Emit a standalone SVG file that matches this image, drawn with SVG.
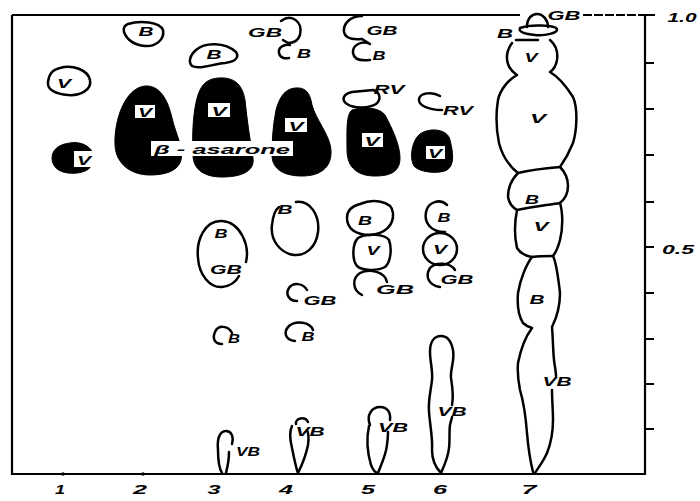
<svg xmlns="http://www.w3.org/2000/svg" width="700" height="501" viewBox="0 0 700 501">
<style>
.o{fill:none;stroke:#000;stroke-width:2.5;stroke-linecap:round;stroke-linejoin:round}
.f{fill:#000;stroke:#000;stroke-width:1}
.w{fill:#fff;stroke:none}
.l{font-family:"Liberation Sans",Arial,sans-serif;font-weight:bold;font-style:italic;font-size:12px;fill:#000;text-anchor:middle}
.n{font-family:"Liberation Sans",Arial,sans-serif;font-weight:bold;font-style:italic;font-size:13px;fill:#000;text-anchor:middle}
.ax{fill:none;stroke:#000;stroke-width:2.2}
</style>
<rect width="700" height="501" fill="#fff"/>
<g id="frame">
<path class="ax" d="M12,15 L12,474 L645,474 L645,15"/>
<path class="ax" d="M12,15 L520,15"/>
<path class="ax" d="M583,15 L645,15" stroke-dasharray="9,2"/>
<path class="ax" d="M645,15 H655 M645,63 H654 M645,109 H654 M645,155 H654 M645,202 H654 M645,247 H654 M645,293 H654 M645,339 H654 M645,384 H654 M645,429 H654"/>
<circle cx="63" cy="474" r="1.8"/><circle cx="143" cy="474" r="1.8"/>
<text class="n" x="682" y="22" textLength="29" lengthAdjust="spacingAndGlyphs">1.0</text>
<text class="n" x="678" y="254" textLength="32" lengthAdjust="spacingAndGlyphs">0.5</text>
<text class="n" x="60" y="494" textLength="10" lengthAdjust="spacingAndGlyphs">1</text>
<text class="n" x="140" y="494" textLength="14" lengthAdjust="spacingAndGlyphs">2</text>
<text class="n" x="214" y="494" textLength="13" lengthAdjust="spacingAndGlyphs">3</text>
<text class="n" x="286" y="494" textLength="14" lengthAdjust="spacingAndGlyphs">4</text>
<text class="n" x="368" y="494" textLength="14" lengthAdjust="spacingAndGlyphs">5</text>
<text class="n" x="440" y="494" textLength="14" lengthAdjust="spacingAndGlyphs">6</text>
<text class="n" x="529" y="494" textLength="15" lengthAdjust="spacingAndGlyphs">7</text>
</g>
<g id="lane1">
<path class="o" d="M60,68 C72,64 88,70 90,80 C92,90 80,96 68,95 C56,94 47,90 48,82 C49,74 52,70 60,68 Z"/>
<text class="l" x="64" y="88" textLength="14" lengthAdjust="spacingAndGlyphs">V</text>
<path class="f" d="M70,143 C80,141 90,146 92,152 L92,165 C88,172 78,174 68,173 C58,172 52,166 52,158 C52,149 60,144 70,143 Z"/>
<rect class="w" x="74" y="151" width="21" height="16"/>
<text class="l" x="84" y="165" textLength="14" lengthAdjust="spacingAndGlyphs">V</text>
</g>
<g id="lane2">
<path class="o" d="M128,24 C140,20 160,22 163,30 C165,40 155,47 145,46 C135,45 127,40 124,32 C123,27 125,25 128,24 Z"/>
<text class="l" x="146" y="36" textLength="15" lengthAdjust="spacingAndGlyphs">B</text>
<path class="f" d="M145,86 C160,85 168,100 172,118 C176,135 184,148 181,160 C178,172 163,175 150,175 C132,175 116,165 115,145 C114,120 125,88 145,86 Z"/>
<rect class="w" x="135" y="105" width="20" height="13"/>
<text class="l" x="145" y="117" textLength="14" lengthAdjust="spacingAndGlyphs">V</text>
</g>
<g id="lane3">
<path class="o" d="M196,50 C205,42 225,42 236,52 C240,58 234,62 225,63 C212,64 200,70 192,66 C188,62 190,55 196,50 Z"/>
<text class="l" x="214" y="59" textLength="15" lengthAdjust="spacingAndGlyphs">B</text>
<path class="f" d="M218,78 C232,77 242,82 245,100 C247,120 250,140 253,158 C255,172 240,177 222,177 C205,177 193,170 193,155 C192,135 193,110 198,95 C202,83 208,79 218,78 Z"/>
<rect class="w" x="208" y="103" width="22" height="14"/>
<text class="l" x="219" y="116" textLength="15" lengthAdjust="spacingAndGlyphs">V</text>
<path class="o" d="M246,262 C250,245 240,222 222,221 C205,220 196,240 198,258 C199,275 210,288 222,287 C230,286 236,282 239,276"/>
<text class="l" x="221" y="238" textLength="13" lengthAdjust="spacingAndGlyphs">B</text>
<text class="l" x="226" y="274" textLength="32" lengthAdjust="spacingAndGlyphs">GB</text>
<path class="o" d="M232,333 C228,325 218,325 215,332 C212,339 215,344 222,344"/>
<text class="l" x="234" y="343" textLength="12" lengthAdjust="spacingAndGlyphs">B</text>
<path class="o" d="M232,444 C234,436 231,431 226,431 C219,431 217,440 218,450 C218,460 219,468 222,473 M226,473 C228,465 229,458 229,452"/>
<text class="l" x="248" y="456" textLength="24" lengthAdjust="spacingAndGlyphs">VB</text>
</g>
<g id="lane4">
<path class="o" d="M281,21 C292,13 303,22 300,35 C298,41 293,43 288,43 M283,40 L288,43"/>
<path class="o" d="M290,45 C283,44 278,48 279,53 C280,58 285,59 289,58"/>
<text class="l" x="265" y="37" textLength="34" lengthAdjust="spacingAndGlyphs">GB</text>
<text class="l" x="304" y="58" textLength="14" lengthAdjust="spacingAndGlyphs">B</text>
<path class="f" d="M295,88 C305,87 310,92 312,105 C316,120 330,135 331,150 C332,168 320,176 302,176 C285,176 272,170 272,155 C272,140 273,125 276,110 C280,95 286,89 295,88 Z"/>
<rect class="w" x="285" y="118" width="22" height="14"/>
<text class="l" x="296" y="131" textLength="15" lengthAdjust="spacingAndGlyphs">V</text>
<path class="o" d="M296,202 C310,200 320,215 318,232 C316,248 305,256 294,255 C280,253 270,240 272,225 C273,215 275,210 279,207"/>
<text class="l" x="285" y="214" textLength="15" lengthAdjust="spacingAndGlyphs">B</text>
<path class="o" d="M307,290 C303,283 293,282 289,288 C285,294 289,301 297,301"/>
<text class="l" x="320" y="305" textLength="33" lengthAdjust="spacingAndGlyphs">GB</text>
<path class="o" d="M313,330 C310,322 296,320 289,326 C283,332 285,340 295,341"/>
<text class="l" x="308" y="341" textLength="13" lengthAdjust="spacingAndGlyphs">B</text>
<path class="o" d="M296,424 C295,418 305,416 308,422"/>
<path class="o" d="M292,426 C289,432 290,440 292,448 C294,458 296,468 298,473 C302,465 306,455 308,445 C309,438 308,432 307,430"/>
<text class="l" x="310" y="436" textLength="29" lengthAdjust="spacingAndGlyphs">VB</text>
</g>
<g id="lane5">
<path class="o" d="M362,16 C350,16 343,24 344,32 C345,38 352,40 362,39"/>
<path class="o" d="M370,44 C362,40 352,45 353,53 C354,60 362,61 370,60 M362,39 L370,44"/>
<text class="l" x="382" y="35" textLength="31" lengthAdjust="spacingAndGlyphs">GB</text>
<text class="l" x="379" y="60" textLength="13" lengthAdjust="spacingAndGlyphs">B</text>
<path class="o" d="M352,92 L373,90 C381,92 381,100 376,104 C370,108 354,109 347,104 C341,100 343,94 352,92 Z"/>
<text class="l" x="389" y="94" textLength="31" lengthAdjust="spacingAndGlyphs">RV</text>
<path class="f" d="M352,110 C365,106 380,108 385,115 C392,128 400,145 400,158 C400,172 390,176 375,176 C358,176 347,168 347,150 C347,130 346,115 352,110 Z"/>
<rect class="w" x="362" y="133" width="21" height="14"/>
<text class="l" x="372" y="146" textLength="15" lengthAdjust="spacingAndGlyphs">V</text>
<path class="o" d="M360,204 C372,199 392,200 393,213 C394,225 385,234 370,235 C355,235 347,228 347,218 C347,210 352,206 360,204 Z"/>
<text class="l" x="365" y="225" textLength="14" lengthAdjust="spacingAndGlyphs">B</text>
<path class="o" d="M358,238 C366,233 385,234 389,240 C392,248 391,262 385,267 C378,271 362,271 357,266 C352,260 352,244 358,238 Z"/>
<text class="l" x="373" y="255" textLength="13" lengthAdjust="spacingAndGlyphs">V</text>
<path class="o" d="M387,282 C385,272 370,268 360,273 C352,278 352,290 362,295"/>
<text class="l" x="395" y="294" textLength="38" lengthAdjust="spacingAndGlyphs">GB</text>
<path class="o" d="M370,425 C366,415 372,407 380,407 C387,407 391,412 390,420"/>
<path class="o" d="M369,426 C366,440 368,455 371,465 C373,470 376,473 378,473 C381,465 386,455 387,445 C388,438 388,434 388,432"/>
<text class="l" x="393" y="432" textLength="30" lengthAdjust="spacingAndGlyphs">VB</text>
</g>
<g id="lane6">
<path class="o" d="M440,96 C432,91 420,93 419,99 C418,105 428,110 442,110"/>
<text class="l" x="458" y="115" textLength="30" lengthAdjust="spacingAndGlyphs">RV</text>
<path class="f" d="M420,134 C430,127 448,129 450,140 C453,152 455,165 447,170 C440,174 420,173 414,166 C409,158 412,140 420,134 Z"/>
<rect class="w" x="426" y="146" width="19" height="13"/>
<text class="l" x="435" y="158" textLength="14" lengthAdjust="spacingAndGlyphs">V</text>
<path class="o" d="M447,205 C440,198 428,202 426,212 C424,222 430,232 445,232"/>
<text class="l" x="444" y="222" textLength="13" lengthAdjust="spacingAndGlyphs">B</text>
<ellipse class="o" cx="440" cy="249" rx="17" ry="16"/>
<text class="l" x="440" y="254" textLength="14" lengthAdjust="spacingAndGlyphs">V</text>
<path class="o" d="M455,270 C450,262 435,262 430,268 C425,276 428,285 440,287"/>
<text class="l" x="457" y="284" textLength="33" lengthAdjust="spacingAndGlyphs">GB</text>
<path class="o" d="M452,405 C454,395 452,385 451,378 C450,370 455,360 453,350 C451,340 446,336 441,336 C434,336 430,342 430,352 C430,362 433,370 432,380 C431,390 428,400 429,412 C430,425 433,440 432,450 C432,460 436,468 441,473 C444,466 448,458 449,448 C450,440 449,432 450,425 C451,420 452,418 452,417"/>
<text class="l" x="452" y="416" textLength="29" lengthAdjust="spacingAndGlyphs">VB</text>
</g>
<g id="lane7">
<path class="o" d="M527,27 C527,18 532,14 537,14 C543,14 548,20 548,27"/>
<path class="o" d="M520,28 C530,24 555,25 557,29 C558,33 545,36 535,35 C525,34 518,32 520,28 Z"/>
<text class="l" x="564" y="20" textLength="33" lengthAdjust="spacingAndGlyphs">GB</text>
<text class="l" x="505" y="38" textLength="16" lengthAdjust="spacingAndGlyphs">B</text>
<path class="o" d="M516,40 L538,40"/>
<path class="o" d="M512,43 C507,50 506,58 508,64 C510,70 514,73 517,75 C508,80 500,90 498,100 C496,112 496,128 499,143 C502,155 508,165 518,173 C511,180 508,188 508,197 C509,203 512,207 517,210 C515,220 514,235 517,248 C520,253 526,256 532,257 C526,265 520,280 518,293 C517,305 518,315 523,323 C526,326 529,327 532,328 C526,336 521,348 518,363 C517,375 519,385 520,390 C523,400 526,420 527,433 C528,445 530,460 533,472"/>
<path class="o" d="M550,40 C556,45 558,53 557,60 C556,66 553,70 550,72 C557,76 566,86 573,97 C578,108 577,130 573,143 C569,153 565,160 560,167 C565,172 568,178 568,186 C568,194 565,199 560,203 C563,213 563,228 560,240 C558,248 556,252 553,256 C556,262 558,275 560,293 C560,305 558,315 552,327 C553,340 553,350 554,360 C555,368 556,372 556,376 M552,390 C552,400 553,410 553,420 C553,432 551,443 547,453 C543,462 538,468 535,473"/>
<path class="o" d="M518,173 C530,170 548,168 560,167 M517,210 C530,207 548,205 560,203 M532,257 C540,256 547,256 553,256"/>
<text class="l" x="531" y="62" textLength="13" lengthAdjust="spacingAndGlyphs">V</text>
<text class="l" x="538" y="123" textLength="16" lengthAdjust="spacingAndGlyphs">V</text>
<text class="l" x="532" y="204" textLength="14" lengthAdjust="spacingAndGlyphs">B</text>
<text class="l" x="541" y="231" textLength="15" lengthAdjust="spacingAndGlyphs">V</text>
<text class="l" x="537" y="304" textLength="15" lengthAdjust="spacingAndGlyphs">B</text>
<text class="l" x="557" y="386" textLength="29" lengthAdjust="spacingAndGlyphs">VB</text>
</g>
<g id="asarone">
<rect class="w" x="151" y="141" width="142" height="15"/>
<text class="l" x="222" y="154" font-size="14" textLength="136" lengthAdjust="spacingAndGlyphs">β - asarone</text>
</g>
</svg>
